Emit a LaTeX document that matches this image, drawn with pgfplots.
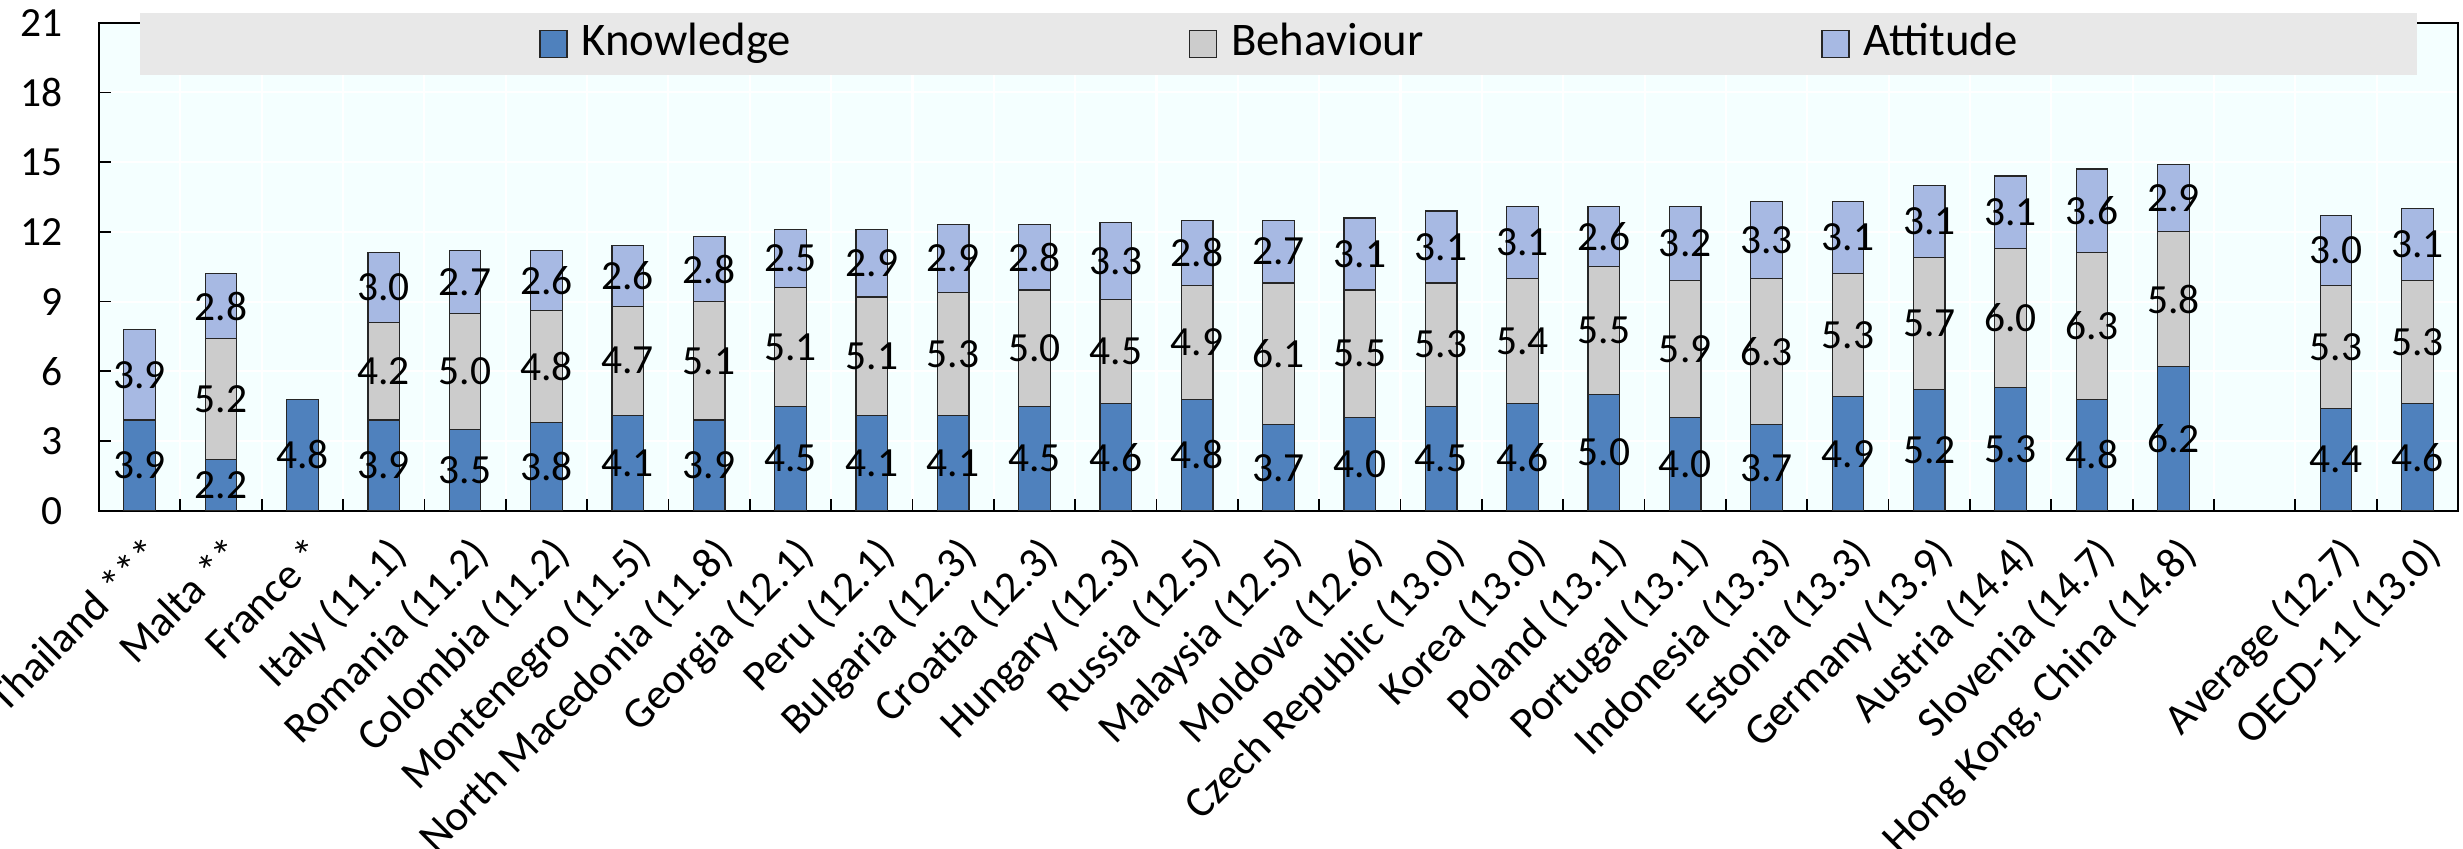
\documentclass[border=0pt]{standalone}
\usepackage{fontspec}
\setmainfont{Carlito}
\usepackage{pgfplots}
\pgfplotsset{compat=1.18}
\usepackage{pgfplotstable}
\definecolor{cK}{HTML}{4F81BD}
\definecolor{cB}{HTML}{CCCCCC}
\definecolor{cA}{HTML}{A7B9E3}
\definecolor{bgc}{HTML}{F4FFFF}
\definecolor{lgc}{HTML}{E8E8E8}
\pgfplotstableread{
x  K   B   A   Kl  Bl  Al
0  3.9 0   3.9 3.9 {}  3.9
1  2.2 5.2 2.8 2.2 5.2 2.8
2  4.8 0   0   4.8 {}  {}
3  3.9 4.2 3.0 3.9 4.2 3.0
4  3.5 5.0 2.7 3.5 5.0 2.7
5  3.8 4.8 2.6 3.8 4.8 2.6
6  4.1 4.7 2.6 4.1 4.7 2.6
7  3.9 5.1 2.8 3.9 5.1 2.8
8  4.5 5.1 2.5 4.5 5.1 2.5
9  4.1 5.1 2.9 4.1 5.1 2.9
10 4.1 5.3 2.9 4.1 5.3 2.9
11 4.5 5.0 2.8 4.5 5.0 2.8
12 4.6 4.5 3.3 4.6 4.5 3.3
13 4.8 4.9 2.8 4.8 4.9 2.8
14 3.7 6.1 2.7 3.7 6.1 2.7
15 4.0 5.5 3.1 4.0 5.5 3.1
16 4.5 5.3 3.1 4.5 5.3 3.1
17 4.6 5.4 3.1 4.6 5.4 3.1
18 5.0 5.5 2.6 5.0 5.5 2.6
19 4.0 5.9 3.2 4.0 5.9 3.2
20 3.7 6.3 3.3 3.7 6.3 3.3
21 4.9 5.3 3.1 4.9 5.3 3.1
22 5.2 5.7 3.1 5.2 5.7 3.1
23 5.3 6.0 3.1 5.3 6.0 3.1
24 4.8 6.3 3.6 4.8 6.3 3.6
25 6.2 5.8 2.9 6.2 5.8 2.9
27 4.4 5.3 3.0 4.4 5.3 3.0
28 4.6 5.3 3.1 4.6 5.3 3.1
}\data
\pgfplotsset{
  seg/.style={ybar, bar width=3.16mm, bar shift=0pt, draw=black!85, line width=0.35pt, forget plot},
  lab/.style={ybar, bar width=3.16mm, bar shift=0pt, draw=none, fill=none, forget plot,
    point meta=explicit symbolic, nodes near coords,
    every node near coord/.append style={font=\fontsize{11.8}{14}\selectfont, text=black, inner sep=0pt, anchor=center}}}
\begin{document}
\begin{tikzpicture}
\begin{axis}[
  scale only axis, width=235.9mm, height=48.8mm,
  xmin=-0.5, xmax=28.5, ymin=0, ymax=21,
  ytick={0,3,...,21},
  xtick={0.5,1.5,...,27.5}, xticklabels={},
  extra x ticks={0,1,...,25,27,28},
  extra x tick labels={Thailand ***, Malta **, France *, Italy (11.1), Romania (11.2), Colombia (11.2), Montenegro (11.5), North Macedonia (11.8), Georgia (12.1), Peru (12.1), Bulgaria (12.3), Croatia (12.3), Hungary (12.3), Russia (12.5), Malaysia (12.5), Moldova (12.6), Czech Republic (13.0), Korea (13.0), Poland (13.1), Portugal (13.1), Indonesia (13.3), Estonia (13.3), Germany (13.9), Austria (14.4), Slovenia (14.7), {Hong Kong, China (14.8)}, Average (12.7), OECD-11 (13.0)},
  extra x tick style={major tick length=0pt, grid=none,
    tick label style={font=\fontsize{12.3}{14}\selectfont, xshift=0.3mm, yshift=-0.6mm, rotate=45, anchor=north east}},
  tick align=inside, tick pos=left, major tick length=1.2mm,
  tick style={black, line width=0.5pt},
  axis line style={black, line width=0.5pt},
  axis background/.style={fill=bgc},
  xmajorgrids, ymajorgrids,
  major grid style={white, line width=0.6pt},
  /pgf/number format/assume math mode=true,
  yticklabel style={font=\fontsize{11.8}{13}\selectfont, xshift=-2.4mm},
  legend image code/.code={\draw[#1] (0mm,-1.35mm) rectangle (2.7mm,1.35mm);},
  legend style={at={(0.5,1)}, anchor=north, yshift=1.07mm, fill=lgc, draw=none,
    legend columns=3, inner xsep=39.9mm, inner ysep=1mm,
    font=\fontsize{13.3}{16}\selectfont,
    /tikz/every odd column/.append style={column sep=1.4mm},
    /tikz/every even column/.append style={column sep=39.8mm},
    nodes={inner xsep=0pt, inner ysep=0pt, text height=3.3mm, text depth=0.9mm}},
]
\addlegendimage{fill=cK, draw=black!85, line width=0.35pt}
\addlegendimage{fill=cB, draw=black!85, line width=0.35pt}
\addlegendimage{fill=cA, draw=black!85, line width=0.35pt}
\legend{Knowledge, Behaviour, Attitude}
\addplot[seg, fill=cA] table[x=x, y expr=\thisrow{K}+\thisrow{B}+\thisrow{A}] {\data};
\addplot[seg, fill=cB] table[x=x, y expr=\thisrow{K}+\thisrow{B}] {\data};
\addplot[seg, fill=cK] table[x=x, y=K] {\data};
\addplot[lab] table[x=x, y expr=\thisrow{K}/2, meta=Kl] {\data};
\addplot[lab] table[x=x, y expr=\thisrow{K}+\thisrow{B}/2, meta=Bl] {\data};
\addplot[lab] table[x=x, y expr=\thisrow{K}+\thisrow{B}+\thisrow{A}/2, meta=Al] {\data};
\end{axis}
\pgfresetboundingbox
\path (-9.9mm,-33.73mm) rectangle (236.4mm,51.07mm);
\end{tikzpicture}
\end{document}
